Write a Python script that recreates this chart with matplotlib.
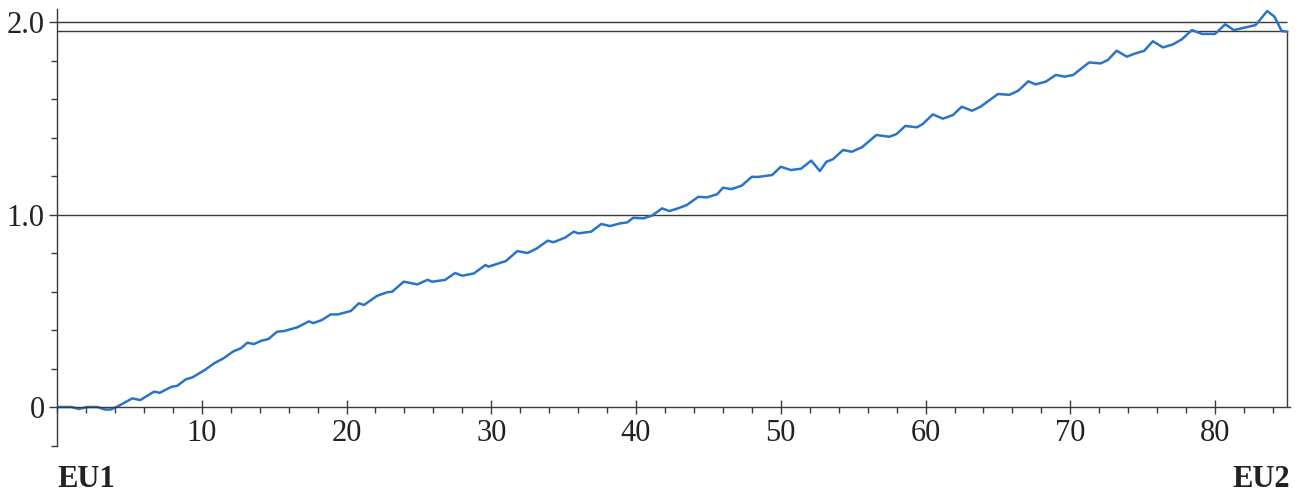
"""Redraw the EU1 -> EU2 profile: one blue trace over a boxed 0..85 range."""

import matplotlib

matplotlib.use("Agg")
import matplotlib.pyplot as plt
from matplotlib.ticker import FixedLocator, MultipleLocator


# distance along the profile and the traced value
DISTANCE = [
    0, 1.0, 1.5, 2.1, 2.8, 3.3, 3.7, 4.1, 4.6, 5.2,
    5.75, 6.7, 7.1, 7.9, 8.3, 8.9, 9.35, 10.2, 10.85, 11.5,
    12.2, 12.7, 13.15, 13.6, 14.1, 14.6, 15.2, 15.7, 16.6, 17.4,
    17.7, 18.3, 18.9, 19.4, 20.3, 20.85, 21.2, 22.1, 22.8, 23.15,
    23.95, 24.9, 25.6, 25.9, 26.8, 27.5, 28.0, 28.8, 29.6, 29.8,
    31.0, 31.8, 32.5, 33.15, 33.9, 34.3, 35.1, 35.7, 36.0, 36.9,
    37.6, 38.2, 38.9, 39.4, 39.8, 40.5, 41.1, 41.8, 42.3, 42.9,
    43.5, 44.3, 44.9, 45.6, 46.0, 46.6, 47.3, 48.0, 48.4, 49.4,
    50.0, 50.7, 51.4, 52.1, 52.7, 53.15, 53.6, 54.3, 54.9, 55.6,
    56.6, 57.5, 58.0, 58.6, 59.4, 59.8, 60.5, 61.2, 61.9, 62.5,
    63.2, 63.8, 65.0, 65.8, 66.4, 67.1, 67.6, 68.3, 69.0, 69.6,
    70.2, 71.3, 72.1, 72.6, 73.2, 73.9, 74.5, 75.1, 75.7, 76.4,
    77.1, 77.7, 78.4, 79.1, 80.0, 80.7, 81.3, 82.1, 82.8, 83.6,
    84.1, 84.6, 85.0,
]
VALUE = [
    0, 0, -0.01, 0, 0, -0.013, -0.013, 0, 0.02, 0.045,
    0.036, 0.08, 0.074, 0.105, 0.11, 0.144, 0.154, 0.192, 0.227, 0.253,
    0.29, 0.305, 0.334, 0.327, 0.344, 0.353, 0.391, 0.395, 0.414, 0.445,
    0.436, 0.452, 0.481, 0.481, 0.499, 0.539, 0.530, 0.577, 0.596, 0.599,
    0.651, 0.637, 0.661, 0.651, 0.66, 0.696, 0.682, 0.694, 0.738, 0.729,
    0.758, 0.81, 0.80, 0.824, 0.864, 0.856, 0.88, 0.911, 0.902, 0.911,
    0.951, 0.940, 0.954, 0.959, 0.983, 0.98, 0.994, 1.032, 1.018, 1.032,
    1.049, 1.092, 1.089, 1.105, 1.139, 1.132, 1.15, 1.196, 1.195, 1.205,
    1.248, 1.231, 1.238, 1.28, 1.226, 1.274, 1.287, 1.335, 1.326, 1.349,
    1.413, 1.404, 1.418, 1.46, 1.453, 1.47, 1.52, 1.498, 1.517, 1.56,
    1.539, 1.56, 1.626, 1.622, 1.643, 1.692, 1.676, 1.69, 1.725, 1.716,
    1.725, 1.79, 1.785, 1.803, 1.851, 1.82, 1.837, 1.85, 1.90, 1.868,
    1.884, 1.91, 1.958, 1.938, 1.938, 1.988, 1.958, 1.972, 1.984, 2.057,
    2.028, 1.953, 1.95,
]

X_MAJOR_TICKS = [10, 20, 30, 40, 50, 60, 70, 80]
X_MAJOR_LABELS = ["10", "20", "30", "40", "50", "60", "70", "80"]
Y_MAJOR_TICKS = [0, 1.0, 2.0]
Y_MAJOR_LABELS = ["0", "1.0", "2.0"]
REFERENCE_LEVELS = [1.0, 2.0]
BOX_TOP = 1.953
PROFILE_END = 85.0
START_LABEL = "EU1"
END_LABEL = "EU2"

FONT = ["Liberation Serif", "DejaVu Serif"]
LINE_COLOR = "#2a74c8"
FRAME_COLOR = "#3a3a3a"


def main() -> None:
    plt.rcParams["font.family"] = FONT
    plt.rcParams["font.size"] = 22

    figure = plt.figure(figsize=(13.08, 4.93), dpi=100)
    axis = figure.add_axes([0.0436, 0.0963, 0.9429, 0.8864])

    axis.set_xlim(0, 85.2)
    axis.set_ylim(-0.2, 2.07)

    # reference lines and the closing box at the end of the profile
    axis.hlines(REFERENCE_LEVELS, 0, PROFILE_END, color=FRAME_COLOR, linewidth=1.0)
    axis.hlines(BOX_TOP, 0, PROFILE_END, color=FRAME_COLOR, linewidth=1.0)
    axis.vlines(PROFILE_END, 0, BOX_TOP, color=FRAME_COLOR, linewidth=1.0)

    axis.plot(DISTANCE, VALUE, color=LINE_COLOR, linewidth=1.8,
              solid_joinstyle="round", solid_capstyle="round")

    for side in ("top", "right"):
        axis.spines[side].set_visible(False)
    axis.spines["bottom"].set_position(("data", 0))
    axis.spines["bottom"].set_bounds(0, 85.2)
    for side in ("left", "bottom"):
        axis.spines[side].set_color(FRAME_COLOR)
        axis.spines[side].set_linewidth(1.0)

    axis.xaxis.set_major_locator(FixedLocator(X_MAJOR_TICKS))
    axis.set_xticklabels(X_MAJOR_LABELS)
    axis.xaxis.set_minor_locator(MultipleLocator(2))
    axis.yaxis.set_major_locator(FixedLocator(Y_MAJOR_TICKS))
    axis.set_yticklabels(Y_MAJOR_LABELS)
    axis.yaxis.set_minor_locator(MultipleLocator(0.2))

    axis.tick_params(axis="x", which="major", direction="inout", length=9.5, width=1.0,
                     color=FRAME_COLOR, pad=4)
    axis.tick_params(axis="x", which="minor", direction="out", length=4.5, width=1.0,
                     color=FRAME_COLOR)
    axis.tick_params(axis="y", which="major", direction="out", length=6, width=1.0,
                     color=FRAME_COLOR, pad=3)
    axis.tick_params(axis="y", which="minor", direction="out", length=4.5, width=1.0,
                     color=FRAME_COLOR)
    for label in axis.get_xticklabels() + axis.get_yticklabels():
        label.set_color("#222222")

    figure.text(0.0436, 0.012, START_LABEL, fontweight="bold", ha="left", va="baseline",
                color="#222222")
    figure.text(0.986, 0.012, END_LABEL, fontweight="bold", ha="right", va="baseline",
                color="#222222")

    figure.savefig("out.png", dpi=100, facecolor="white")
    plt.close(figure)


if __name__ == "__main__":
    main()
